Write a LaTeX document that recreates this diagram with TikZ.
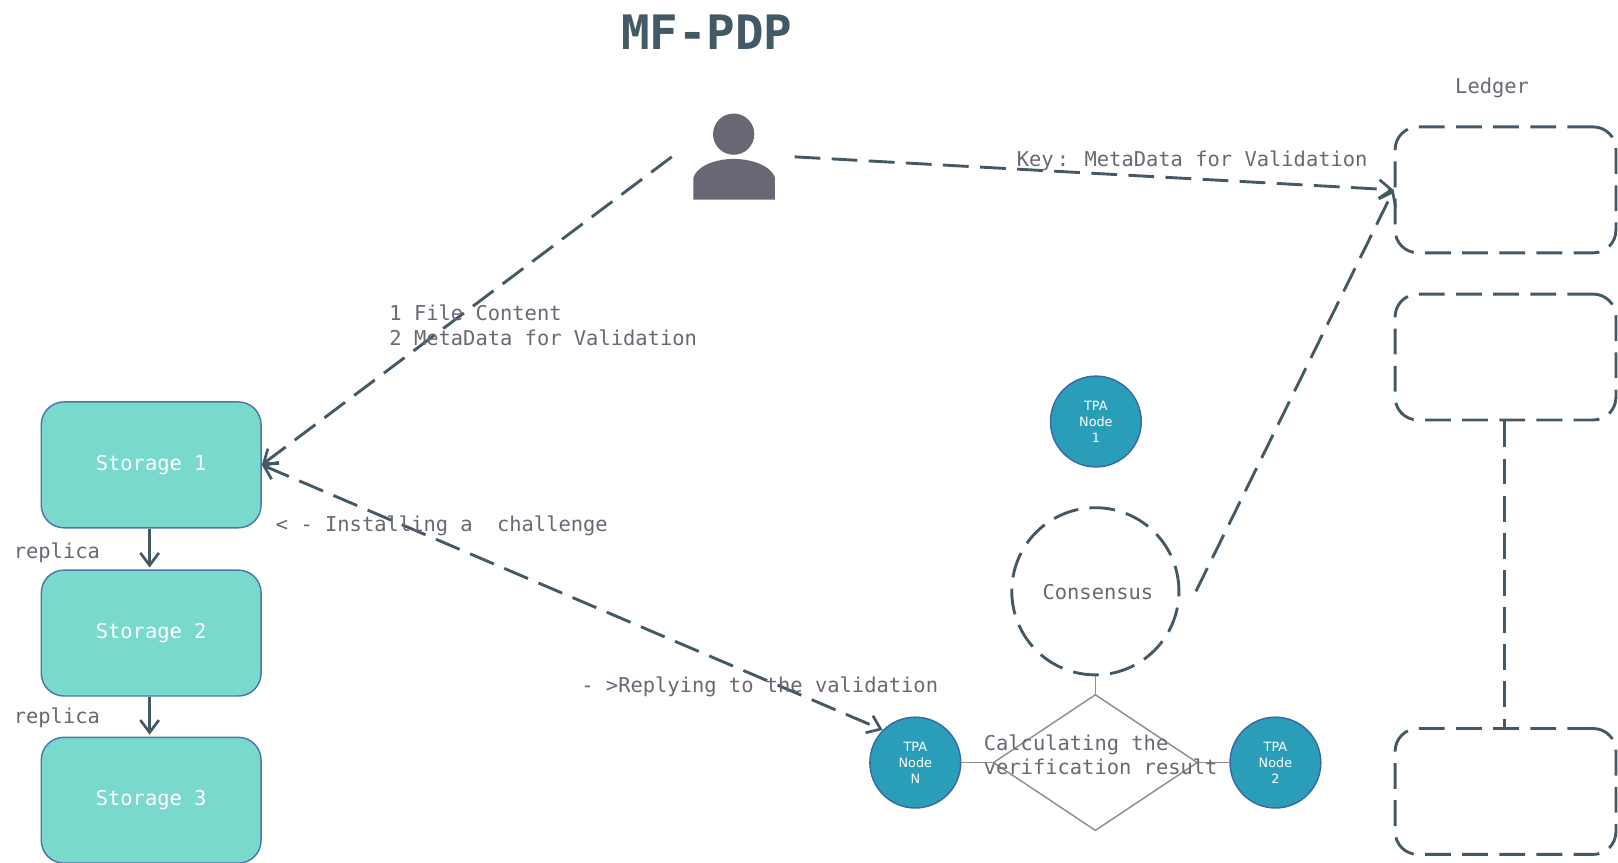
\documentclass[tikz,border=0pt]{standalone}
\usepackage{fontspec}
\setmainfont{DejaVu Sans Mono}
\newfontfamily\tpafont{DejaVu Sans}
\usetikzlibrary{arrows.meta,shapes.geometric}
\definecolor{slate}{HTML}{435A66}
\definecolor{txt}{HTML}{6A6673}
\definecolor{teal}{HTML}{7AD9CD}
\definecolor{tealb}{HTML}{4A76AA}
\definecolor{tpa}{HTML}{2A9EB8}
\definecolor{tpab}{HTML}{3A68A6}
\definecolor{grayl}{HTML}{8C8C92}
\tikzset{
  x=0.5pt,y=-0.5pt,
  storagebox/.style={draw=tealb,line width=0.7pt,fill=teal,rounded corners=11pt,minimum width=106.5pt,minimum height=61pt,inner sep=0pt,text=white,font=\fontsize{9.9}{12}\selectfont},
  ledgerbox/.style={draw=slate,line width=1.4pt,rounded corners=11pt,minimum width=107pt,minimum height=61pt,inner sep=0pt,dash pattern=on 12.5pt off 5.5pt},
  tpanode/.style={circle,draw=tpab,line width=0.7pt,fill=tpa,minimum size=44pt,inner sep=0pt,text=white,align=center,font=\tpafont\fontsize{6.2}{7.8}\selectfont},
  lbl/.style={text=txt,inner sep=0pt,align=left,font=\fontsize{9.9}{12}\selectfont},
  dashline/.style={draw=slate,line width=1.4pt,dash pattern=on 12.5pt off 5.5pt},
  thinline/.style={draw=grayl,line width=0.7pt},
  opentip/.style={-{Straight Barb[length=6pt,width=9pt,line width=1.3pt]}},
  solidarrow/.style={draw=slate,line width=1.3pt,opentip},
}
\begin{document}
\begin{tikzpicture}
\useasboundingbox (0,0) rectangle (1568,836.3);
\node[inner sep=0pt,text=slate,font=\fontsize{23}{26}\selectfont\bfseries] (title) at (685,31.5) {MF-PDP};
% person
\node[circle,fill=txt,minimum size=20pt,inner sep=0pt] (head) at (711,130) {};
\fill[txt] (672,193.5) -- (672,172) .. controls (676,160) and (695,154) .. (711,154) .. controls (727,154) and (747,160) .. (751,172) -- (751,193.5) -- cycle;
\coordinate (pl) at (651,152);
\coordinate (pr) at (770,152);
% storage
\node[storagebox] (s1) at (146.5,450.5) {\raisebox{-1pt}{Storage 1}};
\node[storagebox] (s2) at (146.5,613.5) {\raisebox{-1pt}{Storage 2}};
\node[storagebox] (s3) at (146.5,775.5) {\raisebox{-1pt}{Storage 3}};
\draw[solidarrow] (s1.south -| 145,0) -- (145,550);
\draw[solidarrow] (s2.south -| 145,0) -- (145,712);
\node[lbl,anchor=west] (r1) at (13,535.5) {replica};
\node[lbl,anchor=west] (r2) at (13,695.5) {replica};
% ledger
\node[lbl] (ledger) at (1446,85) {Ledger};
\node[ledgerbox] (l1) at (1459,184) {};
\node[ledgerbox] (l2) at (1459,346) {};
\node[ledgerbox] (l3) at (1459,767) {};
\draw[dashline] (l2.south -| 1458,0) -- (l3.north -| 1458,0);
% tpa
\node[tpanode] (t1) at (1062,408.5) {TPA\\Node\\1};
\node[tpanode] (tn) at (887,739) {TPA\\Node\\N};
\node[tpanode] (t2) at (1236,739) {TPA\\Node\\2};
\node[circle,draw=slate,line width=1.4pt,dash pattern=on 12.5pt off 5.5pt,minimum size=81pt,inner sep=0pt] (cons) at (1061.5,573) {};
\node[lbl] (constext) at (1064,573.5) {Consensus};
\node[diamond,thinline,minimum width=99pt,minimum height=66pt,inner sep=0pt,aspect=1.5] (dia) at (1061.5,739) {};
\draw[thinline] (cons.south) -- (dia.north);
\draw[thinline] (tn.east) -- (dia.west);
\draw[thinline] (dia.east) -- (t2.west);
\node[lbl,anchor=west] (calc) at (953,731.5) {Calculating the\\verification result};
% dashed connectors
\coordinate (cr) at (1159,573);
\draw[dashline,opentip] (pl) -- (s1.east);
\draw[dashline,opentip] (pr) -- (l1.west);
\draw[dashline,opentip] (cr) -- (l1.west);
\draw[dashline,{Straight Barb[length=6pt,width=9pt,line width=1.3pt]}-{Straight Barb[length=6pt,width=9pt,line width=1.3pt]}] (s1.east) -- (tn.north west);
% labels
\node[lbl,anchor=west] (key) at (985,155.5) {Key\hspace{1.5pt}:\hspace{7.5pt}MetaData for Validation};
\node[lbl,anchor=west] (file) at (377,315.5) {1 File Content\\2 MetaData for Validation};
\node[lbl,anchor=west] (inst) at (267,509.5) {< - Installing a\hspace{11.8pt}challenge};
\node[lbl,anchor=west] (repl) at (563,665.5) {- >Replying to the validation};
\end{tikzpicture}
\end{document}
